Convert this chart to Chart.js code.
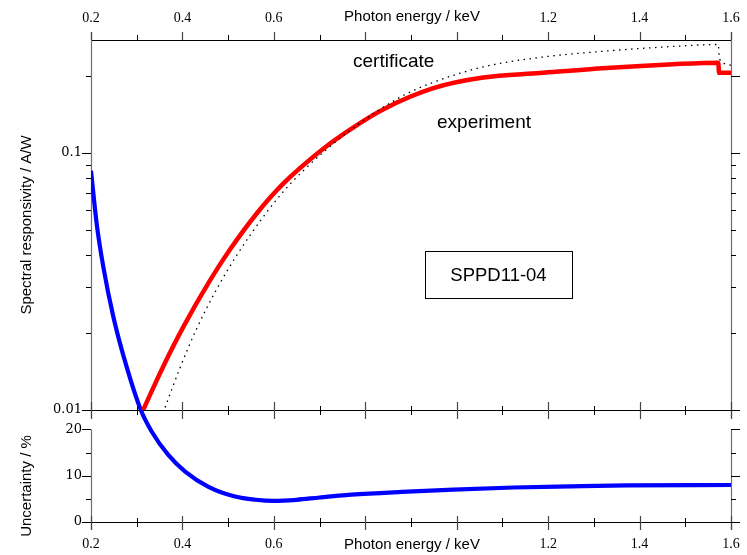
<!DOCTYPE html>
<html><head><meta charset="utf-8">
<script src="https://cdn.jsdelivr.net/npm/chart.js@4/dist/chart.umd.min.js"></script>
<style>html,body{margin:0;padding:0;background:#fff;} #wrap{width:747px;height:555px;}</style>
</head><body><div id="wrap"><canvas id="c" width="747" height="555"></canvas></div>
<script>
// ---- data ----
const energyExperiment = [0.314,0.358,0.402,0.460,0.504,0.5625,0.621,0.708,0.752,0.839,0.949,1.058,1.182,1.328,1.474,1.572,1.574,1.600];
const responsivityExperiment = [0.0100,0.01477,0.02105,0.03185,0.04209,0.05815,0.07612,0.10385,0.11844,0.14766,0.17864,0.19648,0.2045,0.2140,0.2213,0.2244,0.205,0.205];

const energyCertificate = [0.362,0.395,0.431,0.475,0.519,0.577,0.621,0.661,0.759,0.875,0.949,1.058,1.182,1.328,1.474,1.572,1.575,1.590,1.600];
const responsivityCertificate = [0.01023,0.01463,0.02071,0.02953,0.04003,0.05650,0.07080,0.08420,0.1195,0.1643,0.1883,0.2161,0.2353,0.2492,0.2596,0.2642,0.232,0.222,0.219];

const energyUncertainty = [0.200,0.2125,0.227,0.249,0.278,0.309,0.333,0.369,0.406,0.457,0.515,0.560,0.600,0.650,0.700,0.770,0.880,0.993,1.124,1.250,1.372,1.600];
const uncertaintyPercent = [75.9,64.4,55.1,44.3,33.5,24.2,19.5,14.5,10.9,7.6,5.5,4.8,4.55,4.8,5.3,5.9,6.5,7.0,7.45,7.7,7.9,8.0];

const energyTicks = [0.2,0.4,0.6,0.8,1.0,1.2,1.4,1.6];
const energyTickLabels = ['0.2','0.4','0.6','','','1.2','1.4','1.6'];
const energyMinorTicks = [0.3,0.5,0.7,0.9,1.1,1.3,1.5];
const responsivityTicks = [0.01,0.1];
const responsivityTickLabels = ['0.01','0.1'];
const responsivityMinorTicks = [0.02,0.03,0.04,0.05,0.06,0.07,0.08,0.09,0.2];
const uncertaintyTicks = [0,10,20];
const uncertaintyTickLabels = ['0','10','20'];
const uncertaintyMinorTicks = [5,15];

const xTitle = 'Photon energy / keV';
const yTopTitle = 'Spectral responsivity / A/W';
const yBottomTitle = 'Uncertainty / %';
const labelCertificate = 'certificate';
const labelExperiment = 'experiment';
const detectorName = 'SPPD11-04';

// ---- helpers ----
const toPoints = (xs, ys) => xs.map((x, i) => ({x, y: ys[i]}));
const xTickFont = {family: 'Liberation Serif', size: 14};
const yTickFont = {family: 'DejaVu Serif', size: 13};
const energyLabel = v => { const i = energyTicks.findIndex(t => Math.abs(t - v) < 1e-6); return i >= 0 ? energyTickLabels[i] : ''; };
const respLabel = v => { const i = responsivityTicks.findIndex(t => Math.abs(t - v) / t < 1e-6); return i >= 0 ? responsivityTickLabels[i] : ''; };
const uncLabel = v => { const i = uncertaintyTicks.findIndex(t => Math.abs(t - v) < 1e-6); return i >= 0 ? uncertaintyTickLabels[i] : ''; };
const noGrid = {display: false, drawTicks: false, tickLength: 0};

const panelAxes = {
  id: 'panelAxes',
  beforeDatasetsDraw(chart) {
    const {ctx, chartArea: ca, scales} = chart;
    const sx = scales.x, yL = scales.yLog, yU = scales.yLin;
    const topY = ca.top, midY = yL.bottom, botY = ca.bottom;
    const lowTop = yU.getPixelForValue(20);
    const L = ca.left, R = ca.right;
    const seg = (x1, y1, x2, y2, color, w) => {
      ctx.strokeStyle = color; ctx.lineWidth = w;
      ctx.beginPath(); ctx.moveTo(x1, y1); ctx.lineTo(x2, y2); ctx.stroke();
    };
    ctx.save();
    const hC = '#000', vC = '#6e6e6e';
    seg(L, topY + 0.5, R, topY + 0.5, hC, 1);
    seg(L, midY + 0.5, R + 8, midY + 0.5, hC, 1);
    seg(L, botY + 0.5, R + 8, botY + 0.5, hC, 1);
    seg(L + 0.5, topY - 8, L + 0.5, midY + 8, vC, 1.2);
    seg(R + 0.5, topY - 8, R + 0.5, midY + 8, vC, 1.2);
    seg(L + 0.5, lowTop, L + 0.5, botY + 8, vC, 1.2);
    seg(R + 0.5, lowTop, R + 0.5, botY + 8, vC, 1.2);
    energyTicks.forEach(v => {
      const p = Math.round(sx.getPixelForValue(v)) + 0.5;
      seg(p, topY - 8, p, topY, '#444', 1.2);
      seg(p, midY - 8, p, midY + 9, '#444', 1.2);
      seg(p, botY - 6, p, botY + 8, '#444', 1.2);
    });
    energyMinorTicks.forEach(v => {
      const p = Math.round(sx.getPixelForValue(v)) + 0.5;
      seg(p, topY - 5, p, topY, '#000', 1);
      seg(p, midY - 4, p, midY + 5, '#000', 1);
      seg(p, botY - 4, p, botY + 5, '#000', 1);
    });
    responsivityTicks.forEach(v => {
      const p = Math.round(yL.getPixelForValue(v)) + 0.5;
      seg(L - 9, p, L, p, '#000', 1);
      seg(R, p, R + 9, p, '#000', 1);
    });
    responsivityMinorTicks.forEach(v => {
      const p = Math.round(yL.getPixelForValue(v)) + 0.5;
      seg(L - 5, p, L, p, '#000', 1);
      seg(R, p, R + (v === 0.2 ? 9 : 5), p, '#000', 1);
    });
    uncertaintyTicks.forEach(v => {
      const p = Math.round(yU.getPixelForValue(v)) + 0.5;
      seg(L - 9, p, L, p, '#000', 1);
      seg(R, p, R + 9, p, '#000', 1);
    });
    uncertaintyMinorTicks.forEach(v => {
      const p = Math.round(yU.getPixelForValue(v)) + 0.5;
      seg(L - 5, p, L, p, '#000', 1);
      seg(R, p, R + 5, p, '#000', 1);
    });
    ctx.restore();
  },
  afterDraw(chart) {
    const {ctx} = chart;
    ctx.save();
    ctx.fillStyle = '#000';
    ctx.font = '15px "Liberation Sans"';
    ctx.textAlign = 'center';
    ctx.textBaseline = 'alphabetic';
    const cx = 412;
    ctx.fillText(xTitle, cx, 20.7);
    ctx.fillText(xTitle, cx, 548.5);
    ctx.textBaseline = 'middle';
    ctx.save(); ctx.translate(26.5, 225); ctx.rotate(-Math.PI / 2); ctx.fillText(yTopTitle, 0, 0); ctx.restore();
    ctx.save(); ctx.translate(26.5, 486); ctx.rotate(-Math.PI / 2); ctx.fillText(yBottomTitle, 0, 0); ctx.restore();
    ctx.font = '19px "Liberation Sans"';
    ctx.textAlign = 'left';
    ctx.textBaseline = 'alphabetic';
    ctx.fillText(labelCertificate, 353, 67.3);
    ctx.fillText(labelExperiment, 437, 128.3);
    ctx.strokeStyle = '#000'; ctx.lineWidth = 1;
    ctx.strokeRect(425.5, 251.5, 147, 47);
    ctx.font = '18.5px "Liberation Sans"';
    ctx.textAlign = 'center';
    ctx.textBaseline = 'middle';
    ctx.fillText(detectorName, 498.5, 276);
    ctx.restore();
  }
};

const fitX = h => s => { s.height = h; s.paddingLeft = 0; s.paddingRight = 0; };
const fitY = s => { s.width = 91; s.paddingTop = 0; s.paddingBottom = 0; };

new Chart(document.getElementById('c'), {
  type: 'line',
  data: {
    datasets: [
      {label: 'certificate', data: toPoints(energyCertificate, responsivityCertificate), xAxisID: 'x', yAxisID: 'yLog',
       borderColor: '#000', borderWidth: 1.3, borderDash: [1.5, 4.5], pointRadius: 0, cubicInterpolationMode: 'monotone', fill: false},
      {label: 'experiment', data: toPoints(energyExperiment, responsivityExperiment), xAxisID: 'x', yAxisID: 'yLog',
       borderColor: '#ff0000', borderWidth: 4.5, pointRadius: 0, cubicInterpolationMode: 'monotone', fill: false},
      {label: 'uncertainty', data: toPoints(energyUncertainty, uncertaintyPercent), xAxisID: 'x', yAxisID: 'yLin',
       borderColor: '#0000ff', borderWidth: 4.2, pointRadius: 0, cubicInterpolationMode: 'monotone', fill: false}
    ]
  },
  options: {
    responsive: false, animation: false, devicePixelRatio: 1,
    layout: {padding: {left: 0, right: 16, top: 0, bottom: 0}},
    plugins: {legend: {display: false}, tooltip: {enabled: false}},
    scales: {
      x: {type: 'linear', position: 'bottom', min: 0.2, max: 1.6, grid: noGrid, border: {display: false},
          ticks: {stepSize: 0.2, autoSkip: false, maxRotation: 0, padding: 13.6, font: xTickFont, color: '#000', callback: energyLabel},
          afterFit: fitX(33)},
      x2: {type: 'linear', position: 'top', min: 0.2, max: 1.6, grid: noGrid, border: {display: false},
          ticks: {stepSize: 0.2, autoSkip: false, maxRotation: 0, padding: 13.2, font: xTickFont, color: '#000', callback: energyLabel},
          afterFit: fitX(40)},
      yLog: {type: 'logarithmic', position: 'left', stack: 'panels', stackWeight: 370, weight: 1, min: 0.01, max: 0.275,
          grid: noGrid, border: {display: false},
          ticks: {autoSkip: false, includeBounds: false, padding: 9, font: yTickFont, color: '#000', callback: respLabel},
          afterFit: fitY},
      yLin: {type: 'linear', position: 'left', stack: 'panels', stackWeight: 112, weight: 0, min: 0, max: 24.2, clip: false,
          grid: noGrid, border: {display: false},
          ticks: {stepSize: 5, autoSkip: false, includeBounds: false, padding: 9, font: yTickFont, color: '#000', callback: uncLabel},
          afterFit: fitY}
    }
  },
  plugins: [panelAxes]
});
</script></body></html>
